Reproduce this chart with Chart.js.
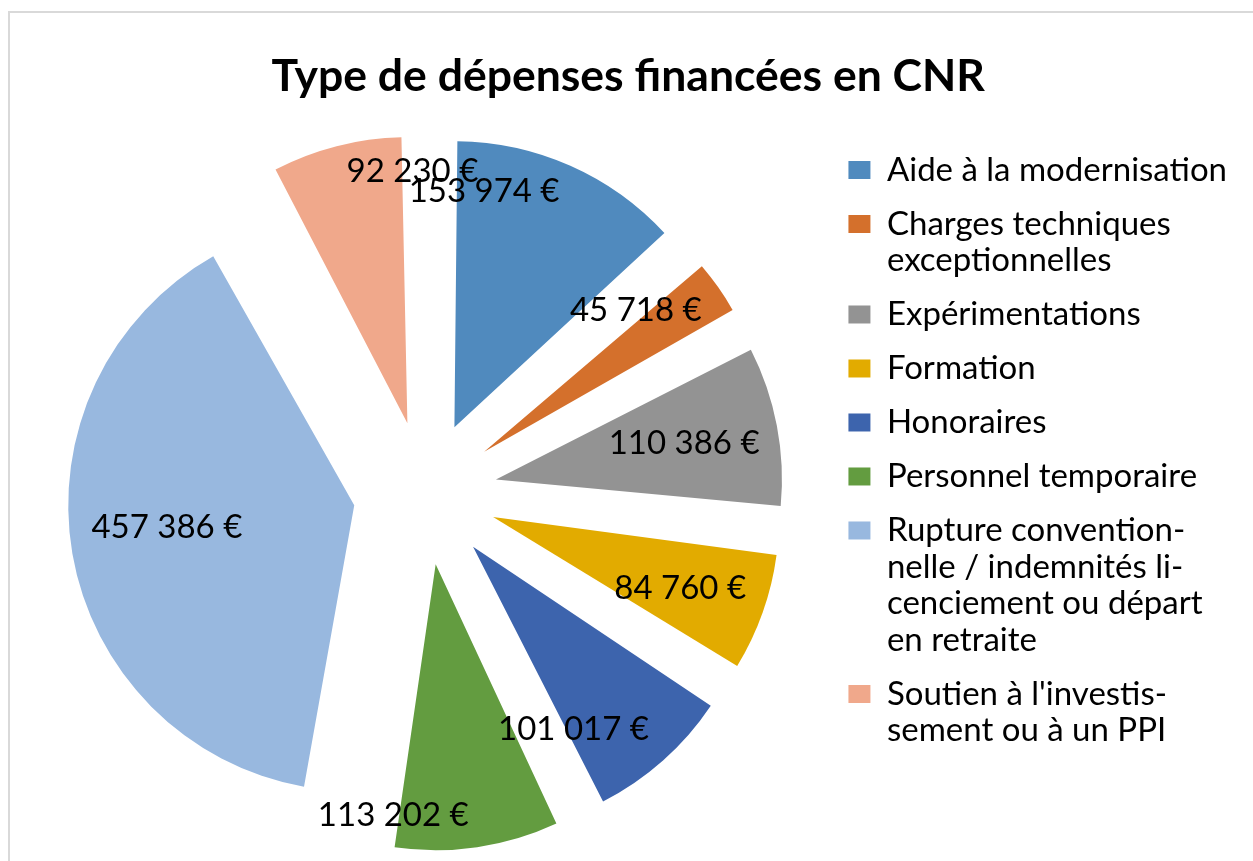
<!DOCTYPE html>
<html lang="fr">
<head>
<meta charset="UTF-8">
<title>Type de dépenses financées en CNR</title>
<script src="https://cdn.jsdelivr.net/npm/chart.js"></script>
<style>
  html, body { margin: 0; padding: 0; background: #fff; overflow: hidden; }
  .cadre { position: absolute; left: 8px; top: 11px; width: 1400px; height: 1000px; border: 2px solid #d9d9d9; box-sizing: border-box; }
  #graphique { position: absolute; left: 0; top: 0; }
</style>
</head>
<body>
<div class="cadre"></div>
<canvas id="graphique" width="1253" height="861"></canvas>
<script>
const categories = [
  'Aide à la modernisation',
  'Charges techniques exceptionnelles',
  'Expérimentations',
  'Formation',
  'Honoraires',
  'Personnel temporaire',
  'Rupture conventionnelle / indemnités licenciement ou départ en retraite',
  "Soutien à l'investissement ou à un PPI"
];
const legendLines = [
  ['Aide à la modernisation'],
  ['Charges techniques', 'exceptionnelles'],
  ['Expérimentations'],
  ['Formation'],
  ['Honoraires'],
  ['Personnel temporaire'],
  ['Rupture convention-', 'nelle / indemnités li-', 'cenciement ou départ', 'en retraite'],
  ["Soutien à l'investis-", 'sement ou à un PPI']
];
const montants = [153974, 45718, 110386, 84760, 101017, 113202, 457386, 92230];
const couleurs = ['#508abe', '#d4702c', '#939393', '#e2ab00', '#3d64ad', '#639c40', '#98b8df', '#f0a88b'];

// placement des étiquettes dans chaque part (fraction d'angle, fraction du rayon)
const posAngle = [0.15, -0.06, 0.50, 0.55, 0.91, 1.01, 0.52, 1.04];
const posRayon = [0.83, 0.725, 0.67, 0.70, 0.73, 0.89, 0.66, 0.88];

const RAYON = 286;
const DECALAGE = 72; // éclatement des parts, en px

function formatEuro(v) {
  return String(v).replace(/\B(?=(\d{3})+(?!\d))/g, ' ') + ' €';
}

// Chart.js agrandit les petites parts décalées : on garde un rayon constant
const rayonConstant = {
  id: 'rayonConstant',
  beforeDatasetsDraw(chart) {
    chart.getDatasetMeta(0).data.forEach(arc => {
      const fix = 1 - Math.sin(Math.min(Math.PI, arc.circumference));
      arc.outerRadius = RAYON - DECALAGE * fix;
    });
  }
};

const etiquettes = {
  id: 'etiquettes',
  afterDatasetsDraw(chart) {
    const ctx = chart.ctx;
    ctx.save();
    ctx.font = '33px Lato';
    ctx.fillStyle = '#000';
    ctx.textAlign = 'center';
    ctx.textBaseline = 'middle';
    chart.getDatasetMeta(0).data.forEach((arc, i) => {
      const mid = (arc.startAngle + arc.endAngle) / 2;
      const cx = arc.x + Math.cos(mid) * DECALAGE;
      const cy = arc.y + Math.sin(mid) * DECALAGE;
      const a = arc.startAngle + posAngle[i] * (arc.endAngle - arc.startAngle);
      const r = posRayon[i] * RAYON;
      ctx.fillText(formatEuro(montants[i]), cx + Math.cos(a) * r, cy + Math.sin(a) * r);
    });
    ctx.restore();
  }
};

const ctx = document.getElementById('graphique').getContext('2d');
const chart = new Chart(ctx, {
  type: 'pie',
  data: {
    labels: legendLines,
    datasets: [{
      label: 'Type de dépenses',
      data: montants,
      backgroundColor: couleurs,
      borderWidth: 0,
      offset: DECALAGE * 4,
      clip: false
    }]
  },
  options: {
    responsive: false,
    animation: false,
    events: [],
    radius: RAYON,
    layout: { padding: { left: 19.5, right: 16, top: 0, bottom: 11 } },
    plugins: {
      title: {
        display: true,
        text: 'Type de dépenses financées en CNR',
        color: '#000',
        font: { family: 'Lato', size: 44.5, weight: 'bold', lineHeight: 1.2 },
        padding: { top: 50, bottom: 32.6 }
      },
      legend: {
        position: 'right',
        align: 'start',
        fullSize: false,
        labels: {
          color: '#000',
          font: { family: 'Lato', size: 33, lineHeight: 1.106 },
          boxWidth: 22,
          boxHeight: 18,
          padding: 17.5
        }
      },
      tooltip: { enabled: false }
    }
  },
  plugins: [rayonConstant, etiquettes]
});
</script>
</body>
</html>
